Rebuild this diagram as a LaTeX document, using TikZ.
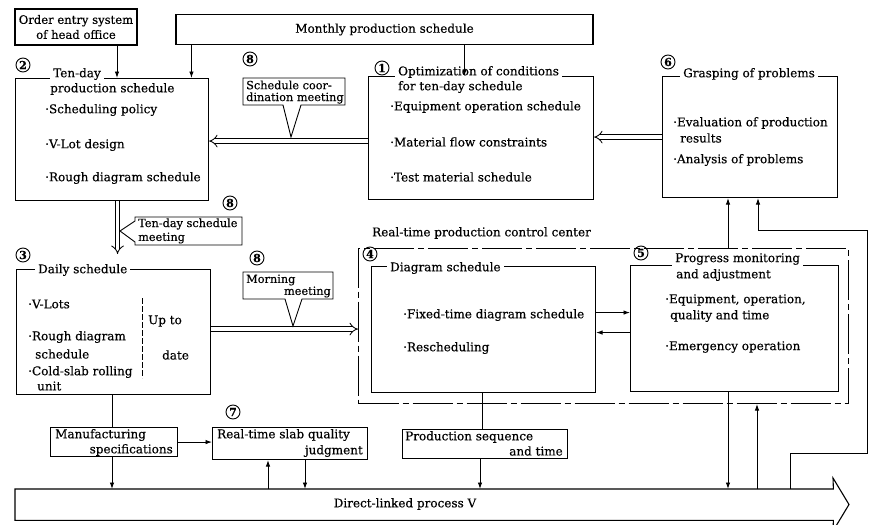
\documentclass[tikz,border=0pt]{standalone}
\usepackage{fontspec}
\setmainfont{DejaVu Serif}[FakeBold=0.35]
\usetikzlibrary{arrows.meta,calc}
\tikzset{
 box/.style={draw, line width=1.1pt, inner sep=0pt, anchor=north west},
 txt/.style={inner sep=0pt, anchor=west, font=\fontsize{12}{15}\selectfont},
 ttl/.style={txt, fill=white, inner xsep=3pt, inner ysep=1pt},
 ctx/.style={inner sep=0pt, anchor=west, font=\fontsize{11.3}{14}\selectfont},
 num/.style={circle, draw, line width=0.9pt, inner sep=0pt, minimum size=14pt, font=\fontsize{11}{11}\selectfont\bfseries},
 arr/.style={line width=0.9pt, -{Latex[length=6.5pt,width=4.5pt]}},
 ln/.style={line width=0.9pt},
 dbl/.style={double, double distance=3.6pt, line width=0.85pt, -{Implies}},
 frm/.style={draw, line width=1pt, dash pattern=on 40pt off 4pt on 6pt off 4pt, inner sep=0pt, anchor=north west},
 call/.style={draw, line width=0.9pt, fill=white, line join=miter},
}
\begin{document}
\begin{tikzpicture}[x=1pt,y=-1pt]
\useasboundingbox[fill=white] (0,0) rectangle (871,525);

% ---------- boxes ----------
\node[box, anchor=center, minimum width=122, minimum height=36, align=center, font=\fontsize{11.6}{15}\selectfont] (oe) at (76,27) {Order entry system\\of head office};
\node[box, anchor=center, minimum width=417, minimum height=30, font=\fontsize{12}{15}\selectfont] (mon) at (384.5,29.5) {Monthly production schedule};
\node[box, minimum width=193, minimum height=122] (b2) at (15,78) {};
\node[box, minimum width=225, minimum height=123] (b1) at (368,76) {};
\node[box, minimum width=175, minimum height=121] (b6) at (662,76) {};
\node[box, minimum width=194, minimum height=125] (b3) at (16,269) {};
\node[frm, minimum width=490, minimum height=155] (frame) at (358,248) {};
\node[box, minimum width=224, minimum height=126] (b4) at (371,266) {};
\node[box, minimum width=208, minimum height=126] (b5) at (630,265) {};
\node[box, minimum width=127, minimum height=29] (ms) at (50,427) {};
\node[box, minimum width=155, minimum height=32] (rq) at (212,427) {};
\node[box, minimum width=165, minimum height=29] (ps) at (402,429) {};
\node[inner sep=0pt, anchor=north west, minimum width=818, minimum height=31] (proc) at (15,489) {};
\draw[line width=1.1pt, line join=miter] (proc.north east) -- (proc.north west) -- (proc.south west) -- (proc.south east) -- (833,531) -- (849,504.5) -- (833,478) -- cycle;

% ---------- box texts ----------
\node[ttl] (t2a) at (50,74) {Ten-day};
\node[txt] (t2b) at (50,89) {production schedule};
\node[txt] (t2c) at (45,110) {·Scheduling policy};
\node[txt] (t2d) at (45,145) {·V-Lot design};
\node[txt] (t2e) at (45,178) {·Rough diagram schedule};

\node[ttl] (t1a) at (395,72) {Optimization of conditions};
\node[txt] (t1b) at (398,87) {for ten-day schedule};
\node[txt] (t1c) at (390,107) {·Equipment operation schedule};
\node[txt] (t1d) at (390,142) {·Material flow constraints};
\node[txt] (t1e) at (390,177) {·Test material schedule};

\node[ttl] (t6a) at (680,74) {Grasping of problems};
\node[txt] (t6b) at (673,123) {·Evaluation of production};
\node[txt] (t6c) at (680,138) {results};
\node[txt] (t6d) at (673,160) {·Analysis of problems};

\node[ttl] (t3a) at (35,270) {Daily schedule};
\node[txt] (t3b) at (28,304) {·V-Lots};
\node[txt] (t3c) at (28,337) {·Rough diagram};
\node[txt] (t3d) at (35,354) {schedule};
\node[txt] (t3e) at (28,372) {·Cold-slab rolling};
\node[txt] (t3f) at (37,386) {unit};
\node[txt] (t3g) at (148,321) {Up to};
\node[txt] (t3h) at (162,355) {date};
\draw[line width=0.5pt, dash pattern=on 6pt off 2pt] (142,298) -- (142,378);

\node[txt] (rtc) at (372,233) {Real-time production control center};

\node[ttl] (t4a) at (387,268) {Diagram schedule};
\node[txt] (t4b) at (403,315) {·Fixed-time diagram schedule};
\node[txt] (t4c) at (403,348) {·Rescheduling};

\node[ttl] (t5a) at (672,259) {Progress monitoring};
\node[txt] (t5b) at (676,275) {and adjustment};
\node[txt] (t5c) at (665,300) {·Equipment, operation,};
\node[txt] (t5d) at (670,316) {quality and time};
\node[txt] (t5e) at (665,347) {·Emergency operation};

\node[txt] (tma) at (55,435) {Manufacturing};
\node[txt, anchor=east] (tmb) at (173,450) {specifications};
\node[txt] (tqa) at (217,435) {Real-time slab quality};
\node[txt, anchor=east] (tqb) at (363,451) {judgment};
\node[txt] (tpa) at (405,437) {Production sequence};
\node[txt, anchor=east] (tpb) at (563,451) {and time};
\node[txt, anchor=center] (tpr) at (405,504) {Direct-linked process V};

% ---------- circled numbers ----------
\node[num] (n1) at (382,68) {1};
\node[num] (n2) at (23,65) {2};
\node[num] (n3) at (23,255) {3};
\node[num] (n4) at (370,254) {4};
\node[num] (n5) at (641,253) {5};
\node[num] (n6) at (668,62) {6};
\node[num] (n7) at (233,412) {7};
\node[num] (n8a) at (250,59) {8};
\node[num] (n8b) at (230,203) {8};
\node[num] (n8c) at (257,258) {8};

% ---------- connectors ----------
\draw[arr] ([xshift=41pt]oe.south) -- ([xshift=41pt]oe.south |- b2.north);
\draw[arr] ([xshift=16pt]mon.south west) -- ([xshift=16pt]mon.south west |- b2.north);
\draw[arr] ([xshift=289pt]mon.south west) -- ([xshift=289pt]mon.south west |- b1.north);

\coordinate (d12) at ([yshift=-3pt]b1.west);
\draw[dbl] (d12) -- (d12 -| b2.east);
\draw[dbl] (b6.west) -- (b6.west -| b1.east);
\coordinate (d23s) at ([xshift=5.5pt]b2.south);
\coordinate (d23e) at ([yshift=15pt]d23s |- b3.north);
\draw[dbl] (d23s) -- (d23e);
\coordinate (d34) at ([yshift=3pt]b3.east);
\draw[dbl] (d34) -- (d34 -| frame.west);

\coordinate (p45) at ([yshift=17pt]b4.east);
\coordinate (p54) at ([yshift=-3pt]b4.east);
\draw[arr] (p45) -- (p45 -| b5.west);
\draw[arr] (p54 -| b5.west) -- (p54);

\draw[arr] (frame.north -| 728,0) -- (b6.south -| 728,0);
\draw[arr] (proc.north -| 790,0) |- (867,453) |- (758,230) -- (b6.south -| 758,0);
\draw[arr] (b5.south -| 728,0) -- (proc.north -| 728,0);
\draw[arr] (proc.north -| 757,0) -- (frame.south -| 757,0);

\draw[ln] (b3.south -| 112,0) -- (ms.north -| 112,0);
\draw[arr] (ms.east) -- (ms.east -| rq.west);
\draw[arr] (ms.south -| 112,0) -- (proc.north -| 112,0);
\draw[arr] (proc.north -| 268,0) -- (rq.south -| 268,0);
\draw[arr] (rq.south -| 305,0) -- (proc.north -| 305,0);
\draw[ln] (b4.south -| 482,0) -- (ps.north -| 482,0);
\draw[arr] (ps.south -| 480,0) -- (proc.north -| 480,0);

% ---------- callouts ----------
\draw[call] (243,78) -- (345,78) -- (345,105) -- (301,105) -- (291,137) -- (283,105) -- (243,105) -- cycle;
\node[ctx] (c1a) at (246,85) {Schedule coor-};
\node[ctx] (c1b) at (246,98) {dination meeting};

\draw[call] (135,217) -- (242,217) -- (242,245) -- (135,245) -- (135,242) -- (120,231) -- (135,221) -- cycle;
\node[ctx] (c2a) at (138,224) {Ten-day schedule};
\node[ctx] (c2b) at (138,238) {meeting};

\draw[call] (243,272) -- (333,272) -- (333,299) -- (302,299) -- (293,326) -- (285,299) -- (243,299) -- cycle;
\node[ctx] (c3a) at (246,280) {Morning};
\node[ctx, anchor=east] (c3b) at (331,292) {meeting};
\end{tikzpicture}
\end{document}
